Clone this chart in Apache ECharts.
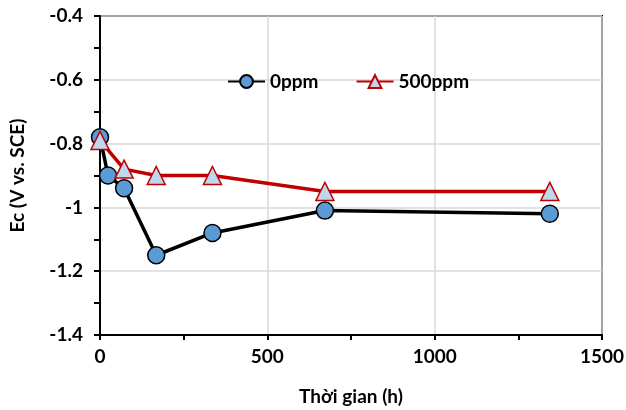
<!DOCTYPE html>
<html>
<head>
<meta charset="utf-8">
<script src="https://cdn.jsdelivr.net/npm/echarts@6/dist/echarts.min.js"></script>
<style>
  html,body{margin:0;padding:0;background:#fff;}
  #chart{width:626px;height:410px;}
</style>
</head>
<body>
<div id="chart"></div>
<script>
  // thoi gian (h)
  var time0 = [0, 24, 72, 168, 336, 672, 1344];
  var ec0 = [-0.78, -0.90, -0.94, -1.15, -1.08, -1.01, -1.02];
  var time500 = [0, 72, 168, 336, 672, 1344];
  var ec500 = [-0.79, -0.88, -0.90, -0.90, -0.95, -0.95];
  var seriesNames = ['0ppm', '500ppm'];

  function pairs(xs, ys){
    return xs.map(function(x, i){ return [x, ys[i]]; });
  }

  var font = 'Lato, "Liberation Sans", sans-serif';
  var chart = echarts.init(document.getElementById('chart'));
  var option = {
    animation: false,
    textStyle: {fontFamily: font},
    grid: {
      left: 100, right: 24, top: 16, bottom: 75,
      outerBoundsMode: 'none', containLabel: false,
      show: true, borderColor: '#000', borderWidth: 2
    },
    legend: {
      left: 222, top: 67,
      itemWidth: 37, itemHeight: 16, itemGap: 37,
      textStyle: {fontSize: 19, fontWeight: 'bold', color: '#000', fontFamily: font},
      data: seriesNames
    },
    xAxis: {
      type: 'value', min: 0, max: 1500, interval: 500,
      name: 'Thời gian (h)', nameLocation: 'middle', nameGap: 52,
      nameTextStyle: {fontSize: 19, fontWeight: 'bold', color: '#000', fontFamily: font},
      axisLine: {show: true, lineStyle: {color: '#000', width: 2}},
      axisTick: {show: true, length: 5, lineStyle: {color: '#000', width: 2}},
      minorTick: {show: true, splitNumber: 2, length: 5, lineStyle: {color: '#000', width: 2}},
      axisLabel: {fontSize: 19, fontWeight: 'bold', color: '#000', margin: 12,
        formatter: function(v){ return String(v); }},
      splitLine: {show: true, lineStyle: {color: '#d9d9d9', width: 1.5}}
    },
    yAxis: {
      type: 'value', min: -1.4, max: -0.4, interval: 0.2,
      name: 'Ec (V vs. SCE)', nameLocation: 'middle', nameGap: 73, nameRotate: 90,
      nameTextStyle: {fontSize: 19, fontWeight: 'bold', color: '#000', fontFamily: font},
      axisLine: {show: true, lineStyle: {color: '#000', width: 2}},
      axisTick: {show: true, length: 6, lineStyle: {color: '#000', width: 2}},
      minorTick: {show: true, splitNumber: 2, length: 6, lineStyle: {color: '#000', width: 2}},
      axisLabel: {fontSize: 19, fontWeight: 'bold', color: '#000', margin: 17,
        formatter: function(v){ return String(Math.round(v * 10) / 10); }},
      splitLine: {show: true, lineStyle: {color: '#d9d9d9', width: 1.5}}
    },
    series: [
      {
        name: seriesNames[0], type: 'line', data: pairs(time0, ec0),
        symbol: 'circle', symbolSize: 17,
        lineStyle: {color: '#000', width: 3.5},
        itemStyle: {color: '#5b9bd5', borderColor: '#000', borderWidth: 1.5},
        z: 2
      },
      {
        name: seriesNames[1], type: 'line', data: pairs(time500, ec500),
        symbol: 'triangle', symbolSize: 18,
        lineStyle: {color: '#c00000', width: 3.5},
        itemStyle: {color: '#bdd7ee', borderColor: '#c00000', borderWidth: 1.5},
        z: 3
      }
    ]
  };
  chart.setOption(option);
</script>
</body>
</html>
